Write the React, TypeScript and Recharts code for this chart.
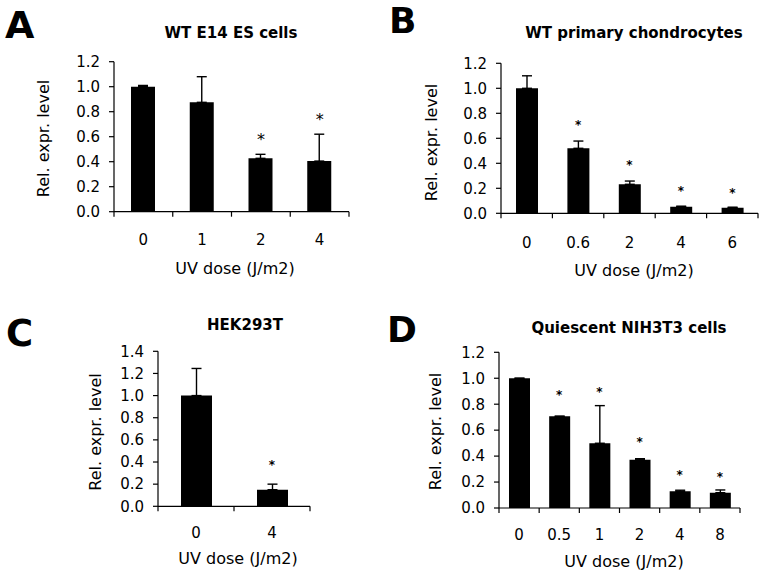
import React from 'react';
import { ComposedChart, Bar, XAxis, YAxis, ErrorBar, Scatter } from 'recharts';

const FONT = '"DejaVu Sans", Verdana, sans-serif';

// Panel A: WT E14 ES cells
const aDoses = ['0', '1', '2', '4'];
const aValues = [1.0, 0.875, 0.427, 0.405];
const aErrors = [0.01, 0.205, 0.032, 0.215];
const aStars = [null, null, 0.61, 0.77];
const aTicks = [0, 0.2, 0.4, 0.6, 0.8, 1.0, 1.2];

// Panel B: WT primary chondrocytes
const bDoses = ['0', '0.6', '2', '4', '6'];
const bValues = [1.0, 0.52, 0.232, 0.053, 0.045];
const bErrors = [0.1, 0.058, 0.026, 0.004, 0.004];
const bStars = [null, 0.733, 0.408, 0.2, 0.19];
const bTicks = [0, 0.2, 0.4, 0.6, 0.8, 1.0, 1.2];

// Panel C: HEK293T
const cDoses = ['0', '4'];
const cValues = [1.0, 0.15];
const cErrors = [0.245, 0.05];
const cStars = [null, 0.4];
const cTicks = [0, 0.2, 0.4, 0.6, 0.8, 1.0, 1.2, 1.4];

// Panel D: Quiescent NIH3T3 cells
const dDoses = ['0', '0.5', '1', '2', '4', '8'];
const dValues = [1.0, 0.707, 0.499, 0.372, 0.129, 0.118];
const dErrors = [0, 0, 0.29, 0.008, 0.008, 0.021];
const dStars = [null, 0.892, 0.918, 0.532, 0.28, 0.262];
const dTicks = [0, 0.2, 0.4, 0.6, 0.8, 1.0, 1.2];

const build = (doses: string[], values: number[], errors: number[], stars: (number | null)[]) =>
  doses.map((dose, i) => ({ dose, value: values[i], err: [0, errors[i]], star: stars[i] }));

type Cfg = {
  box: { left: number; top: number; width: number; height: number };
  plot: { x0: number; x1: number; y0: number; y1: number };
  data: any[];
  yMax: number;
  yTicks: number[];
  barSize: number;
  starSize: number;
  starBold: boolean;
  tickDy: number;
};

const panels: Cfg[] = [
  {
    box: { left: 0, top: 0, width: 382, height: 289 },
    plot: { x0: 114, x1: 349, y0: 61.7, y1: 211.7 },
    data: build(aDoses, aValues, aErrors, aStars),
    yMax: 1.2, yTicks: aTicks, barSize: 24, starSize: 16, starBold: false, tickDy: 33,
  },
  {
    box: { left: 382, top: 0, width: 382, height: 289 },
    plot: { x0: 501, x1: 758, y0: 63.3, y1: 213.3 },
    data: build(bDoses, bValues, bErrors, bStars),
    yMax: 1.2, yTicks: bTicks, barSize: 22, starSize: 12, starBold: true, tickDy: 35,
  },
  {
    box: { left: 0, top: 289, width: 382, height: 289 },
    plot: { x0: 158, x1: 310, y0: 351.3, y1: 506.3 },
    data: build(cDoses, cValues, cErrors, cStars),
    yMax: 1.4, yTicks: cTicks, barSize: 31, starSize: 12, starBold: true, tickDy: 32,
  },
  {
    box: { left: 382, top: 289, width: 382, height: 289 },
    plot: { x0: 499, x1: 740, y0: 352.3, y1: 508 },
    data: build(dDoses, dValues, dErrors, dStars),
    yMax: 1.2, yTicks: dTicks, barSize: 21, starSize: 12, starBold: true, tickDy: 32,
  },
];

const XH = 40;
const YW = 60;

function Panel({ cfg }: { cfg: Cfg }) {
  const { box, plot, data } = cfg;
  const margin = {
    top: plot.y0 - box.top,
    bottom: box.top + box.height - plot.y1 - XH,
    left: plot.x0 - box.left - YW,
    right: box.left + box.width - plot.x1,
  };
  const half = (plot.x1 - plot.x0) / data.length / 2;
  const renderTick = (p: any) => {
    const { x, y, payload, index } = p;
    return (
      <g>
        <line x1={x - half} x2={x - half} y1={y} y2={y + 5} stroke="#000" strokeWidth={1.2} />
        {index === data.length - 1 ? (
          <line x1={x + half} x2={x + half} y1={y} y2={y + 5} stroke="#000" strokeWidth={1.2} />
        ) : null}
        <text x={x} y={y + cfg.tickDy} textAnchor="middle" fontSize={15} fontFamily={FONT} fill="#000">
          {payload.value}
        </text>
      </g>
    );
  };
  const starShape = (p: any) => {
    if (!p || !p.payload || p.payload.star == null || !isFinite(p.cy)) return <g />;
    return (
      <text
        x={p.cx}
        y={p.cy + 0.58 * cfg.starSize}
        textAnchor="middle"
        fontSize={cfg.starSize}
        fontWeight={cfg.starBold ? 'bold' : 'normal'}
        fontFamily={FONT}
        fill="#000"
      >
        *
      </text>
    );
  };
  return (
    <div style={{ position: 'absolute', left: box.left, top: box.top, width: box.width, height: box.height }}>
      <ComposedChart width={box.width} height={box.height} data={data} margin={margin}>
        <XAxis
          dataKey="dose"
          type="category"
          height={XH}
          axisLine={{ stroke: '#000', strokeWidth: 1.2 }}
          tickLine={false}
          tickSize={0}
          tickMargin={0}
          interval={0}
          tick={renderTick}
        />
        <YAxis
          type="number"
          width={YW}
          domain={[0, cfg.yMax]}
          ticks={cfg.yTicks}
          interval={0}
          allowDataOverflow
          tickFormatter={(v: number) => v.toFixed(1)}
          axisLine={{ stroke: '#000', strokeWidth: 1.2 }}
          tickLine={{ stroke: '#000', strokeWidth: 1.2 }}
          tickSize={5}
          tickMargin={9}
          tick={{ fill: '#000', fontSize: 15, fontFamily: FONT }}
        />
        <Bar dataKey="value" fill="#000" barSize={cfg.barSize} isAnimationActive={false}>
          <ErrorBar dataKey="err" width={5} stroke="#000" strokeWidth={1.4} direction="y" />
        </Bar>
        <Scatter dataKey="star" isAnimationActive={false} shape={starShape} />
      </ComposedChart>
    </div>
  );
}

const letters = [
  { t: 'A', x: 5, y: 38, s: 38 },
  { t: 'B', x: 389, y: 33, s: 36 },
  { t: 'C', x: 6, y: 346, s: 37 },
  { t: 'D', x: 387, y: 342, s: 36 },
];
const titles = [
  { t: 'WT E14 ES cells', x: 231, y: 38 },
  { t: 'WT primary chondrocytes', x: 634, y: 37.5 },
  { t: 'HEK293T', x: 245, y: 330 },
  { t: 'Quiescent NIH3T3 cells', x: 629, y: 333 },
];
const yTitles = [
  { x: 43, y: 138.5 },
  { x: 431, y: 142.5 },
  { x: 95, y: 432 },
  { x: 435, y: 431.5 },
];
const xTitles = [
  { x: 235, y: 274 },
  { x: 634, y: 276 },
  { x: 238, y: 564 },
  { x: 624, y: 567 },
];

export default function App() {
  return (
    <div style={{ position: 'absolute', left: 0, top: 0, width: 764, height: 578, background: '#fff', overflow: 'hidden' }}>
      {panels.map((p, i) => (
        <Panel key={i} cfg={p} />
      ))}
      <svg width={764} height={578} style={{ position: 'absolute', left: 0, top: 0, pointerEvents: 'none' }}>
        {letters.map((l) => (
          <text key={l.t} x={l.x} y={l.y} fontSize={l.s} fontWeight="bold" fontFamily={FONT} fill="#000">
            {l.t}
          </text>
        ))}
        {titles.map((t) => (
          <text key={t.t} x={t.x} y={t.y} fontSize={15} fontWeight="bold" fontFamily={FONT} textAnchor="middle" fill="#000">
            {t.t}
          </text>
        ))}
        {yTitles.map((t, i) => (
          <text
            key={'y' + i}
            x={t.x}
            y={t.y}
            dy="0.35em"
            transform={`rotate(-90 ${t.x} ${t.y})`}
            fontSize={16}
            fontFamily={FONT}
            textAnchor="middle"
            fill="#000"
          >
            Rel. expr. level
          </text>
        ))}
        {xTitles.map((t, i) => (
          <text key={'x' + i} x={t.x} y={t.y} fontSize={16} fontFamily={FONT} textAnchor="middle" fill="#000">
            UV dose (J/m2)
          </text>
        ))}
      </svg>
    </div>
  );
}
